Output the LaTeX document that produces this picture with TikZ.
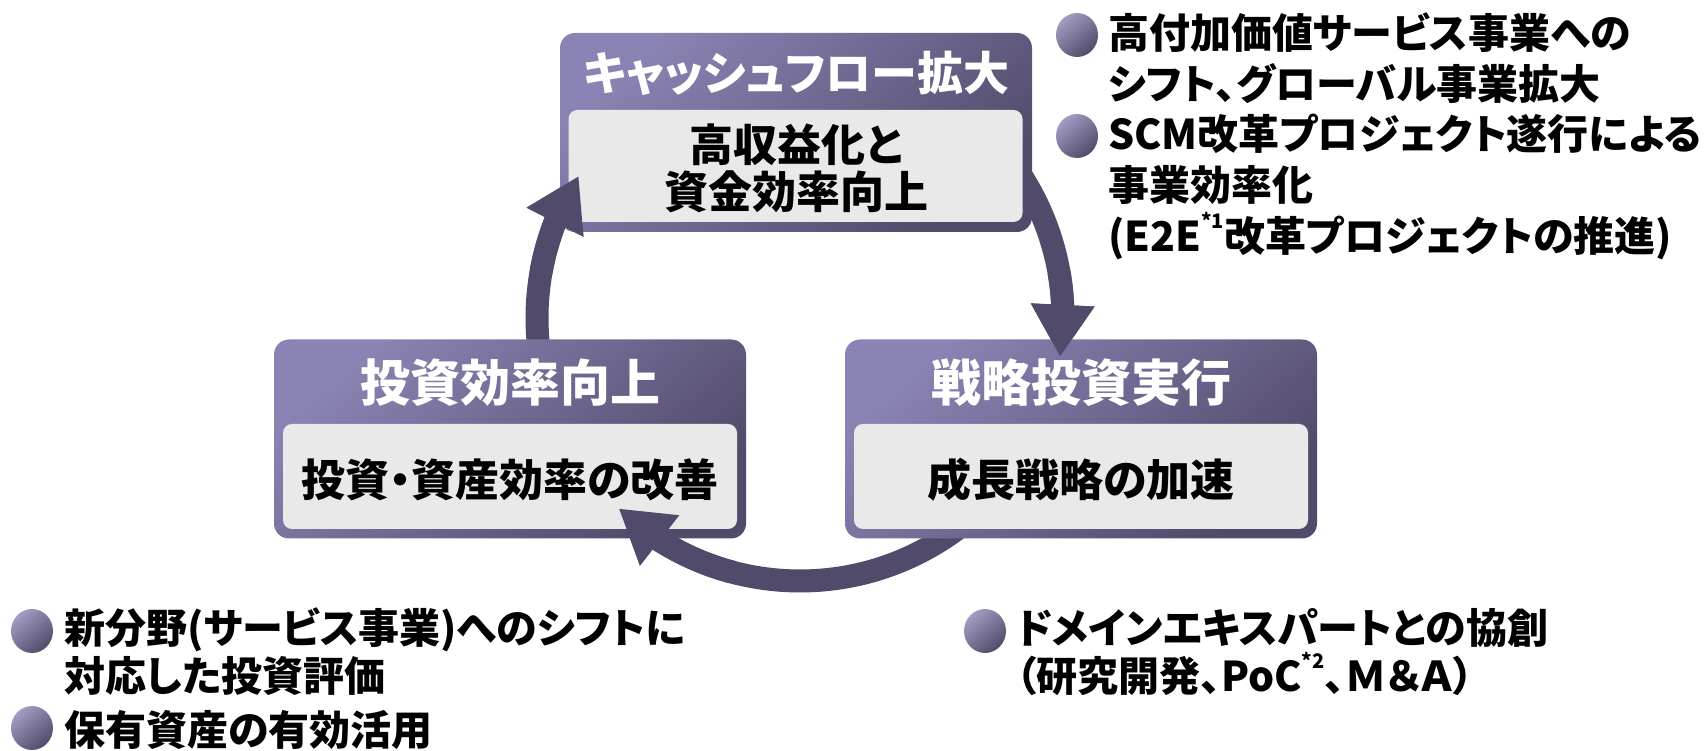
\documentclass[tikz,border=0pt]{standalone}
\usepackage{fontspec}
\newfontfamily\jpf{Noto Sans CJK JP}[RawFeature=+palt]
\usepackage{tikz}
\usetikzlibrary{arrows.meta,bending}
\usetikzlibrary{shapes.geometric}
\definecolor{lav}{RGB}{138,132,180}
\definecolor{dusk}{RGB}{82,74,106}
\definecolor{pane}{RGB}{233,233,233}
\definecolor{ringc}{RGB}{81,74,107}
\tikzset{frm/.style={rounded corners=15pt,minimum width=472pt,minimum height=199pt,inner sep=0pt,top color=lav,bottom color=dusk,shading angle=40}}
\tikzset{pn/.style={rounded corners=9pt,fill=pane,minimum width=454pt,inner sep=0pt}}
\tikzset{ttl/.style={text=white,font=\jpf\bfseries\fontsize{50}{50}\selectfont}}
\tikzset{bd/.style={font=\jpf\bfseries\fontsize{44}{47}\selectfont,align=center}}
\tikzset{tx/.style={font=\jpf\bfseries\fontsize{41}{51}\selectfont,anchor=west,align=left,inner sep=0pt}}
\tikzset{lo/.style={font=\jpf\bfseries\fontsize{41}{48}\selectfont}}
\tikzset{bul/.style={ellipse,minimum width=42pt,minimum height=44pt,inner sep=0pt,top color=lav!80!white,bottom color=dusk,shading angle=40}}
\tikzset{cyc/.style={draw=ringc,line width=23pt,-{Triangle[length=52pt,width=60pt]}}}
\newcommand{\fn}[1]{\raisebox{0.55em}{\fontsize{20}{20}\selectfont #1}}

\begin{document}
\begin{tikzpicture}[x=1pt,y=1pt]
          \useasboundingbox (0,0) rectangle (1704,751);
          \coordinate (hub) at (800,433);
          \draw[cyc] (hub) ++(195:263) arc[start angle=195,end angle=147.3,radius=263];
          \draw[cyc] (hub) ++(35:263) arc[start angle=35,end angle=-8.5,radius=263];
          \draw[cyc] (hub) ++(315:263) arc[start angle=315,end angle=226.4,radius=263];
          \node[frm] (CF) at (796,618.5) {};
          \node[pn,minimum height=112pt] (CFp) at (795.5,585) {};
          \node[ttl,font=\jpf\bfseries\fontsize{46}{46}\selectfont] (CFt) at (796,678) {キャッシュフロー拡大};
          \node[bd] (CFx) at (796,583) {高収益化と\\資金効率向上};
          \node[frm] (IE) at (510,312) {};
          \node[pn,minimum height=105pt] (IEp) at (510,274.5) {};
          \node[ttl] (IEt) at (510,368) {投資効率向上};
          \node[bd] (IEx) at (510,271) {投資・資産効率の改善};
          \node[frm] (SI) at (1081,312) {};
          \node[pn,minimum height=105pt] (SIp) at (1081,274.5) {};
          \node[ttl] (SIt) at (1081,368) {戦略投資実行};
          \node[bd] (SIx) at (1081,271) {成長戦略の加速};
          \draw[cyc] (hub) ++(170:263) arc[start angle=170,end angle=147.3,radius=263];
          \draw[cyc] (hub) ++(10:263) arc[start angle=10,end angle=-8.5,radius=263];
          \draw[cyc] (hub) ++(255:263) arc[start angle=255,end angle=226.4,radius=263];
          \node[bul] (B1) at (1077,716) {};
          \node[tx] (T1) at (1108,692.5) {高付加価値サービス事業への\\シフト、グローバル事業拡大};
          \node[bul] (B2) at (1077,615) {};
          \node[tx] (T2) at (1108,564) {SCM改革プロジェクト遂行による\\事業効率化\\(E2E\fn{*1}改革プロジェクトの推進)};
          \node[bul] (B3) at (32,120) {};
          \node[tx,lo] (T3) at (64,99) {新分野(サービス事業)へのシフトに\\対応した投資評価};
          \node[bul] (B4) at (32,23) {};
          \node[tx] (T4) at (64,21) {保有資産の有効活用};
          \node[bul] (B5) at (985,120) {};
          \node[tx,lo] (T5) at (1016,99) {ドメインエキスパートとの協創\\（研究開発、PoC\fn{*2}、Ｍ＆Ａ）};
        \end{tikzpicture}
\end{document}
